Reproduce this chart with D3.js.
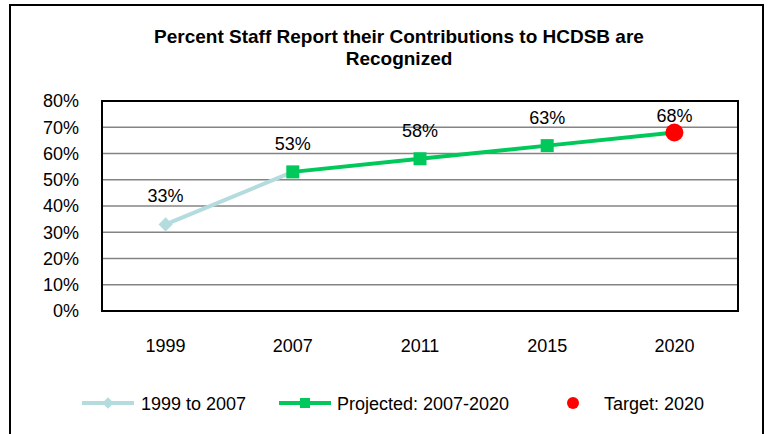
<!DOCTYPE html>
<html>
<head>
<meta charset="utf-8">
<script src="https://cdn.jsdelivr.net/npm/d3@7/dist/d3.min.js"></script>
<style>
body { margin: 0; background: #fff; }
svg { display: block; font-family: "Liberation Sans", Arial, sans-serif; }
</style>
</head>
<body>
<div id="chart"></div>
<script>
// data
var years = ["1999", "2007", "2011", "2015", "2020"];
var pastData = [{ year: "1999", value: 0.33 }, { year: "2007", value: 0.53 }];
var projData = [{ year: "2007", value: 0.53 }, { year: "2011", value: 0.58 }, { year: "2015", value: 0.63 }, { year: "2020", value: 0.68 }];
var targetData = [{ year: "2020", value: 0.68 }];
var yTicks = [0, 0.1, 0.2, 0.3, 0.4, 0.5, 0.6, 0.7, 0.8];
var legendItems = ["1999 to 2007", "Projected: 2007-2020", "Target: 2020"];

var svg = d3.select("#chart").append("svg").attr("width", 770).attr("height", 434);

// outer frame
svg.append("rect")
  .attr("x", 10).attr("y", 5).attr("width", 753).attr("height", 440)
  .attr("fill", "none").attr("stroke", "#000").attr("stroke-width", 2);

svg.append("text")
  .attr("x", 399).attr("y", 43)
  .attr("text-anchor", "middle")
  .attr("font-size", 19).attr("font-weight", "bold")
  .text("Percent Staff Report their Contributions to HCDSB are");
svg.append("text")
  .attr("x", 399).attr("y", 65)
  .attr("text-anchor", "middle")
  .attr("font-size", 19).attr("font-weight", "bold")
  .text("Recognized");

var pLeft = 102, pTop = 101, pRight = 738, pBottom = 311;

var x = d3.scaleBand().domain(years).range([pLeft, pRight]);
var y = d3.scaleLinear().domain([0, 0.8]).range([pBottom, pTop]);
var cx = function(d) { return x(d.year) + x.bandwidth() / 2; };

// gridlines
svg.append("g")
  .selectAll("line")
  .data(yTicks.slice(1, -1))
  .enter().append("line")
  .attr("x1", pLeft).attr("x2", pRight)
  .attr("y1", function(d) { return y(d); }).attr("y2", function(d) { return y(d); })
  .attr("stroke", "#848484").attr("stroke-width", 1.6);

svg.append("rect")
  .attr("x", pLeft).attr("y", pTop).attr("width", pRight - pLeft).attr("height", pBottom - pTop)
  .attr("fill", "none").attr("stroke", "#000").attr("stroke-width", 2);

// y axis
var yAxis = svg.append("g")
  .attr("transform", "translate(" + pLeft + ",0)")
  .call(d3.axisLeft(y).tickValues(yTicks).tickFormat(d3.format(".0%")).tickSize(0).tickPadding(23));
yAxis.select(".domain").remove();
yAxis.selectAll("text").attr("font-size", 18).attr("fill", "#000").attr("font-family", "Liberation Sans, Arial, sans-serif");

// x axis
var xAxis = svg.append("g")
  .attr("transform", "translate(0," + pBottom + ")")
  .call(d3.axisBottom(x).tickSize(0).tickPadding(28));
xAxis.select(".domain").remove();
xAxis.selectAll("text").attr("font-size", 18).attr("fill", "#000").attr("font-family", "Liberation Sans, Arial, sans-serif");

var line = d3.line().x(cx).y(function(d) { return y(d.value); });

svg.append("path").datum(pastData)
  .attr("d", line).attr("fill", "none")
  .attr("stroke", "#b4dbde").attr("stroke-width", 4);

svg.append("path").datum(projData)
  .attr("d", line).attr("fill", "none")
  .attr("stroke", "#00c85a").attr("stroke-width", 4);

// diamond marker: rotated square
svg.selectAll(".diamond").data(pastData.slice(0, 1)).enter().append("rect")
  .attr("x", -5).attr("y", -5).attr("width", 10).attr("height", 10)
  .attr("transform", function(d) { return "translate(" + cx(d) + "," + y(d.value) + ") rotate(45)"; })
  .attr("fill", "#b4dbde");

svg.selectAll(".square").data(projData.slice(0, 3)).enter().append("rect")
  .attr("x", function(d) { return cx(d) - 6.5; })
  .attr("y", function(d) { return y(d.value) - 6.5; })
  .attr("width", 13).attr("height", 13)
  .attr("fill", "#00c85a");

svg.selectAll(".target").data(targetData).enter().append("circle")
  .attr("cx", cx).attr("cy", function(d) { return y(d.value); })
  .attr("r", 9).attr("fill", "#ff0000");

// data labels
var labelled = pastData.slice(0, 1).concat(projData.slice(0, 3));
svg.selectAll(".lbl").data(labelled).enter().append("text")
  .attr("x", cx).attr("y", function(d) { return y(d.value) - 22; })
  .attr("text-anchor", "middle").attr("font-size", 18)
  .text(function(d) { return Math.round(d.value * 100) + "%"; });
svg.selectAll(".tlbl").data(targetData).enter().append("text")
  .attr("x", cx).attr("y", function(d) { return y(d.value) - 10.5; })
  .attr("text-anchor", "middle").attr("font-size", 18)
  .text(function(d) { return Math.round(d.value * 100) + "%"; });

// legend
var ly = 403;
var lg = svg.append("g");
function legendText(tx, s) {
  lg.append("text").attr("x", tx).attr("y", ly + 6.5)
    .attr("font-size", 18).text(s);
}
lg.append("line").attr("x1", 82).attr("x2", 134).attr("y1", ly).attr("y2", ly)
  .attr("stroke", "#b4dbde").attr("stroke-width", 4);
lg.append("rect").attr("x", -4).attr("y", -4).attr("width", 8).attr("height", 8)
  .attr("transform", "translate(108," + ly + ") rotate(45)").attr("fill", "#b4dbde");
legendText(141, legendItems[0]);

lg.append("line").attr("x1", 279).attr("x2", 331).attr("y1", ly).attr("y2", ly)
  .attr("stroke", "#00c85a").attr("stroke-width", 4);
lg.append("rect").attr("x", 300).attr("y", ly - 5).attr("width", 10).attr("height", 10).attr("fill", "#00c85a");
legendText(337, legendItems[1]);

lg.append("circle").attr("cx", 573).attr("cy", ly).attr("r", 6).attr("fill", "#ff0000");
legendText(604, legendItems[2]);
</script>
</body>
</html>
